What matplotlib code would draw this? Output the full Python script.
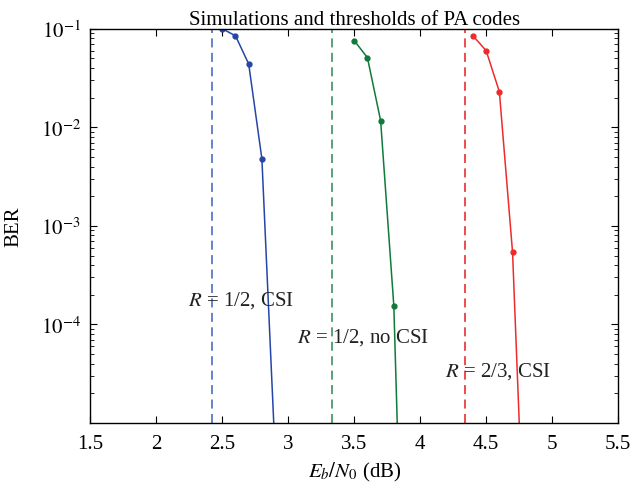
import numpy as np
import matplotlib
matplotlib.use("Agg")
import matplotlib.pyplot as plt
from matplotlib.ticker import LogLocator, NullFormatter

plt.rcParams["font.family"] = ["Liberation Serif", "DejaVu Serif"]
plt.rcParams["mathtext.fontset"] = "stix"

# simulated BER curves (last point lies below the visible range)
ebn0_csi12 = [2.5, 2.6, 2.7, 2.8, 2.9]
ber_csi12 = [0.1, 0.085, 0.044, 0.0048, 5e-6]

ebn0_nocsi12 = [3.5, 3.6, 3.7, 3.8, 3.9]
ber_nocsi12 = [0.076, 0.051, 0.0117, 1.55e-4, 4e-9]

ebn0_csi23 = [4.4, 4.5, 4.6, 4.7, 4.8]
ber_csi23 = [0.085, 0.06, 0.023, 5.4e-4, 2.1e-7]

# thresholds (dB)
thresholds = [2.42, 3.33, 4.34]
labels = [r"$R$ = 1/2, CSI", r"$R$ = 1/2, no CSI", r"$R$ = 2/3, CSI"]
label_pos = [(2.24, 1.8e-4), (3.065, 7.6e-5), (4.19, 3.4e-5)]

solid_cols = ["#2545a8", "#0f7a3a", "#ee2a2a"]
dash_cols = ["#5a78c4", "#4a9a6a", "#e84040"]

fig = plt.figure(figsize=(6.32, 4.89), dpi=100)
ax = fig.add_axes([0.143, 0.133, 0.835, 0.806])

curves = [(ebn0_csi12, ber_csi12), (ebn0_nocsi12, ber_nocsi12), (ebn0_csi23, ber_csi23)]
for (x, y), c in zip(curves, solid_cols):
    ax.plot(x, y, "-o", color=c, lw=1.1, ms=3.5, clip_on=True)

for t, c in zip(thresholds, dash_cols):
    ax.axvline(t, color=c, lw=1.3, ls=(0, (5, 3)))

for lab, (px, py) in zip(labels, label_pos):
    ax.text(px, py, lab, fontsize=15, color="#222222", ha="left", va="center")

ax.set_yscale("log")
ax.set_xlim(1.5, 5.5)
ax.set_ylim(1e-5, 1e-1)
ax.set_xticks(np.arange(1.5, 5.51, 0.5))
ax.set_xticklabels(["1.5", "2", "2.5", "3", "3.5", "4", "4.5", "5", "5.5"])
ax.set_yticks([1e-4, 1e-3, 1e-2, 1e-1])
ax.set_yticklabels([r"$10^{-4}$", r"$10^{-3}$", r"$10^{-2}$", r"$10^{-1}$"])
ax.yaxis.set_minor_locator(LogLocator(base=10, subs=np.arange(2, 10)))
ax.yaxis.set_minor_formatter(NullFormatter())
ax.tick_params(which="both", direction="in", top=True, right=True, labelsize=15)
ax.tick_params(axis="x", pad=8)
ax.tick_params(axis="y", pad=7)
ax.tick_params(which="major", length=5)
ax.tick_params(which="minor", length=3)
for s in ax.spines.values():
    s.set_linewidth(1.0)

ax.set_xlabel(r"$E_b/N_0$ (dB)", fontsize=15, labelpad=5)
ax.set_ylabel("BER", fontsize=15, labelpad=12)
ax.set_title("Simulations and thresholds of PA codes", fontsize=15, pad=1)

fig.savefig("out.png", dpi=100)
